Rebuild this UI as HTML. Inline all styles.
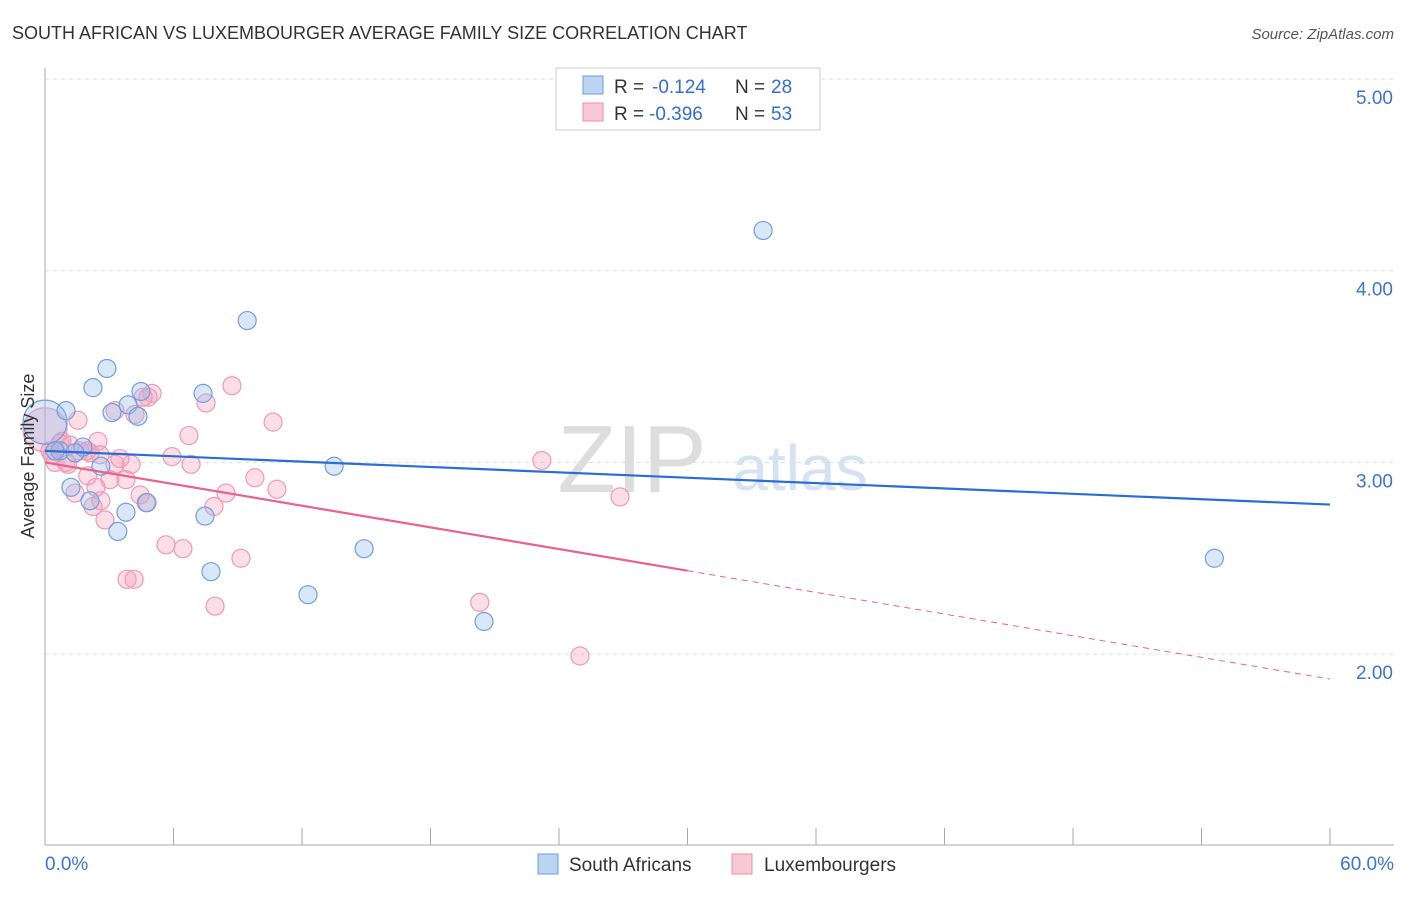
<!DOCTYPE html>
<html><head><meta charset="utf-8">
<style>
body{margin:0;background:#fff;font-family:"Liberation Sans",sans-serif;}
svg text{font-family:"Liberation Sans",sans-serif;}
</style></head>
<body>
<svg id="c" width="1406" height="892">
<text x="12" y="39" font-size="18" fill="#333">SOUTH AFRICAN VS LUXEMBOURGER AVERAGE FAMILY SIZE CORRELATION CHART</text>
<text x="1394" y="39" font-size="15" fill="#555" text-anchor="end" font-style="italic">Source: ZipAtlas.com</text>
<g><text x="632" y="492" font-size="96" fill="#ddd" text-anchor="middle" font-family="Liberation Serif">ZIP</text><text x="800" y="490" font-size="64" fill="#d4e2f4" text-anchor="middle">atlas</text></g>
<g id="grid"></g><g id="pts"></g><g id="lines"></g>
<text x="34" y="456" font-size="18" fill="#333" text-anchor="middle" transform="rotate(-90 34 456)">Average Family Size</text>
<g>
<rect x="556" y="68" width="264" height="62" fill="#fff" stroke="#ccc"/>
<rect x="583" y="76" width="20" height="18" fill="#bcd4f4" stroke="#6b9be0"/>
<rect x="583" y="103" width="20" height="18" fill="#f9c8d6" stroke="#ec8fac"/>
<text x="614" y="93" font-size="19" fill="#333">R =</text>
<text x="652" y="93" font-size="19" fill="#2f6fd6">-0.124</text>
<text x="735" y="93" font-size="19" fill="#333">N =</text>
<text x="771" y="93" font-size="19" fill="#2f6fd6">28</text>
<text x="614" y="120" font-size="19" fill="#333">R =</text>
<text x="649" y="120" font-size="19" fill="#2f6fd6">-0.396</text>
<text x="735" y="120" font-size="19" fill="#333">N =</text>
<text x="771" y="120" font-size="19" fill="#2f6fd6">53</text>
</g>
<g>
<rect x="538" y="854" width="20" height="20" fill="#bcd4f4" stroke="#6b9be0"/>
<text x="569" y="871" font-size="19" fill="#333">South Africans</text>
<rect x="732" y="854" width="20" height="20" fill="#f9c8d6" stroke="#ec8fac"/>
<text x="764" y="871" font-size="19" fill="#333">Luxembourgers</text>
</g>
</svg>
<script>
const yTicks=[2,3,4,5];
const yTickLabels=["2.00","3.00","4.00","5.00"];
const xTickLabels=["0.0%","60.0%"];
const blueX=[0,0.98,2.24,2.89,0.7,1.77,3.13,3.88,4.48,4.34,7.38,9.44,33.53,2.61,1.21,2.1,3.78,3.4,4.76,7.47,7.75,12.28,14.9,13.5,20.5,54.6,0.47,1.4];
const blueY=[3.21,3.27,3.39,3.49,3.06,3.08,3.26,3.3,3.37,3.24,3.36,3.74,4.21,2.98,2.87,2.8,2.74,2.64,2.79,2.72,2.43,2.31,2.55,2.98,2.17,2.5,3.06,3.05];
const pinkX=[0,0.23,0.7,1.17,1.63,2.1,0.47,1.07,1.54,2.47,3.27,4.2,5.0,4.81,4.58,7.52,8.73,10.65,6.72,5.93,6.82,3.27,4.02,2.0,3.03,3.78,2.38,1.4,2.61,2.24,4.44,4.72,8.45,7.89,9.8,10.83,2.8,5.65,6.44,9.15,3.83,4.16,7.94,20.3,24.98,26.85,23.2,1.96,0.98,3.5,2.57,0.79,0.33];
const pinkY=[3.17,3.06,3.1,3.09,3.06,3.05,3.0,2.99,3.22,3.11,3.27,3.25,3.36,3.34,3.34,3.31,3.4,3.21,3.14,3.03,2.99,2.99,2.99,2.93,2.91,2.91,2.87,2.84,2.8,2.77,2.83,2.79,2.84,2.77,2.92,2.86,2.7,2.57,2.55,2.5,2.39,2.39,2.25,2.27,1.99,2.82,3.01,3.06,3.0,3.02,3.04,3.11,3.04];
const blueTrend=[3.06,2.78];
const pinkTrend=[3.0,1.87];
const X0=45,X1=1330,YT=79,YU=191.7;
const sx=v=>X0+v/60*(X1-X0);
const sy=v=>YT+(5-v)*YU;
const NS="http://www.w3.org/2000/svg";
function mk(p,t,a){const e=document.createElementNS(NS,t);for(const k in a)e.setAttribute(k,a[k]);p.appendChild(e);return e;}
const g=document.getElementById('grid');
yTicks.forEach((v,i)=>{
 const l=mk(g,'line',{x1:X0,x2:1394,y1:sy(v),y2:sy(v),stroke:'#ddd','stroke-dasharray':'4,4'});
 
 
 const t=mk(g,'text',{x:1393,y:sy(v)+25,'font-size':19,fill:'#3a75d4','text-anchor':'end'});t.textContent=yTickLabels[i];
 
 
});
const ax=mk(g,'line',{x1:X0,x2:X0,y1:68,y2:845,stroke:'#aaa'});


const bx=mk(g,'line',{x1:X0,x2:1394,y1:845,y2:845,stroke:'#aaa'});


for(let i=0;i<=10;i++){const tk=mk(g,'line',{x1:sx(i*6),x2:sx(i*6),y1:828,y2:845,stroke:'#aaa'});
 
 }
[[0,xTickLabels[0],'start',45],[60,xTickLabels[1],'end',1394]].forEach(d=>{
 const t=mk(g,'text',{x:d[3],y:870,'font-size':19,fill:'#3a75d4','text-anchor':d[2]});t.textContent=d[1];
 
 
});
const P=document.getElementById('pts');
pinkX.forEach((v,i)=>{const c=mk(P,'circle',{cx:sx(v),cy:sy(pinkY[i]),r:i==0?22:9,fill:'rgba(244,160,186,0.35)',stroke:'#ee9ab4','stroke-width':1.2});
 
 });
blueX.forEach((v,i)=>{const c=mk(P,'circle',{cx:sx(v),cy:sy(blueY[i]),r:i==0?22:9,fill:'rgba(150,186,236,0.35)',stroke:'#6f9fe0','stroke-width':1.2});
 
 });
const L=document.getElementById('lines');
const b=mk(L,'line',{x1:sx(0),y1:sy(blueTrend[0]),x2:sx(60),y2:sy(blueTrend[1]),stroke:'#2a6dd4','stroke-width':2.2});


const pm=pinkTrend[0]+(pinkTrend[1]-pinkTrend[0])*0.5;
const p1=mk(L,'line',{x1:sx(0),y1:sy(pinkTrend[0]),x2:sx(30),y2:sy(pm),stroke:'#e8628d','stroke-width':2.2});


const p2=mk(L,'line',{x1:sx(30),y1:sy(pm),x2:sx(60),y2:sy(pinkTrend[1]),stroke:'#e8628d','stroke-width':1,'stroke-dasharray':'6,5'});


</script>
</body></html>
